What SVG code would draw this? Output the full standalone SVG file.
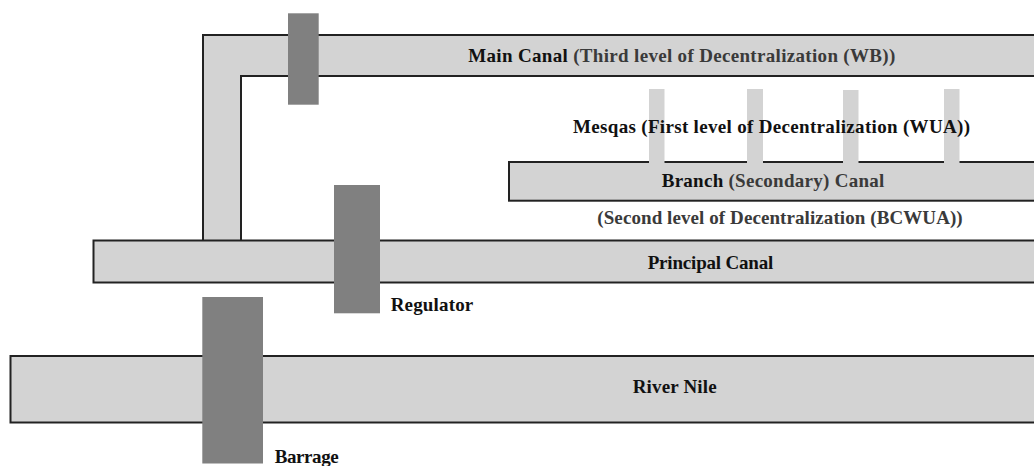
<svg xmlns="http://www.w3.org/2000/svg" width="1034" height="466" viewBox="0 0 1034 466">
<style>
.canal{fill:#d3d3d3;stroke:#222;stroke-width:2}
.stub{fill:#d3d3d3}
.gate{fill:#808080}
text{font-family:"Liberation Serif","Times New Roman",serif;font-weight:bold;font-size:19px;fill:#111}
.sub{fill:#3a3a3a}
</style>
<rect width="1034" height="466" fill="#fff"/>
<g id="river-nile">
<rect class="canal" x="10.5" y="356" width="1040" height="66.5"/>
<text x="632.7" y="393.3" textLength="84" lengthAdjust="spacing">River Nile</text>
</g>
<g id="main-canal">
<polygon class="canal" points="203,241 203,35 1040,35 1040,76 241,76 241,241"/>
<text x="468.3" y="62" textLength="427" lengthAdjust="spacing">Main Canal <tspan class="sub">(Third level of Decentralization (WB))</tspan></text>
</g>
<g id="principal-canal">
<rect class="canal" x="93.5" y="240.5" width="950" height="42"/>
<text x="647.7" y="269.3" textLength="125.6" lengthAdjust="spacing">Principal Canal</text>
</g>
<g id="branch-canal">
<rect class="canal" x="509" y="162" width="540" height="38.7"/>
<text x="661.7" y="186.7" textLength="222.6" lengthAdjust="spacing">Branch <tspan class="sub">(Secondary) Canal</tspan></text>
<text class="sub" x="597.3" y="224" textLength="365.4" lengthAdjust="spacing">(Second level of Decentralization (BCWUA))</text>
</g>
<g id="mesqas">
<rect class="stub" x="649" y="89" width="15.5" height="74"/>
<rect class="stub" x="747" y="89" width="16" height="74"/>
<rect class="stub" x="843" y="90" width="15.5" height="73"/>
<rect class="stub" x="944" y="89" width="15.5" height="74"/>
<text x="573" y="133.3" textLength="397" lengthAdjust="spacing">Mesqas (First level of Decentralization (WUA))</text>
</g>
<g id="main-canal-gate">
<rect class="gate" x="288" y="13.3" width="30.7" height="91.4"/>
</g>
<g id="regulator">
<rect class="gate" x="334" y="185" width="46" height="128.3"/>
<text x="390.7" y="311" textLength="82.6" lengthAdjust="spacing">Regulator</text>
</g>
<g id="barrage">
<rect class="gate" x="202.3" y="297" width="60.7" height="166.5"/>
<text x="274.7" y="463.3" textLength="64" lengthAdjust="spacing">Barrage</text>
</g>
<g id="connectors"></g>
</svg>
